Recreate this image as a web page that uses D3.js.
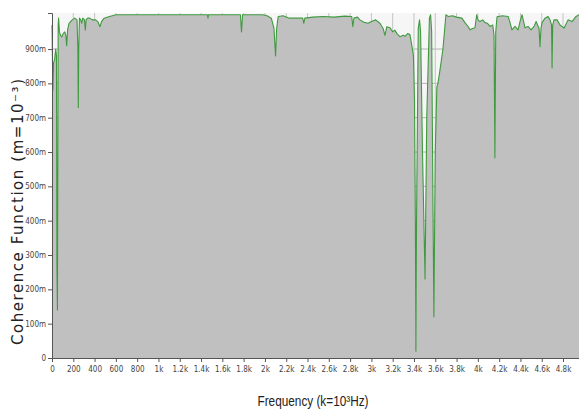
<!DOCTYPE html>
<html>
<head>
<meta charset="utf-8">
<script src="https://cdn.jsdelivr.net/npm/d3@7"></script>
<style>
  body { margin: 0; background: #ffffff; }
  .tick text { font-family: "Liberation Sans Narrow", "DejaVu Sans Condensed", Arial, sans-serif; font-size: 8px; fill: #444; }
  .tick line { stroke: #555; }
  .domain { stroke: #555; }
</style>
</head>
<body>
<div id="chart"></div>
<script>

// frequency (Hz) and coherence
var freqHz = [
  0, 8, 15, 25, 35, 42, 46, 51, 55, 58, 62, 70, 80, 91, 105, 120, 130, 138, 146, 160,
  175, 190, 213, 235, 243, 247, 251, 258, 270, 279, 289, 305, 313, 320, 335, 354, 380, 410, 430, 450,
  465, 490, 540, 600, 1000, 1460, 1465, 1470, 1770, 1780, 1790, 1980, 2020, 2060, 2085, 2100, 2110, 2125, 2170, 2230,
  2290, 2355, 2365, 2375, 2450, 2550, 2650, 2750, 2815, 2826, 2836, 2870, 2892, 2930, 2970, 3000, 3040, 3080, 3110, 3127,
  3145, 3175, 3200, 3220, 3240, 3268, 3300, 3315, 3340, 3362, 3380, 3395, 3405, 3413, 3418, 3424, 3440, 3452, 3462, 3480,
  3504, 3520, 3545, 3556, 3566, 3577, 3587, 3600, 3615, 3625, 3640, 3672, 3700, 3720, 3760, 3800, 3850, 3879, 3910, 3926,
  3950, 3973, 3989, 4001, 4020, 4045, 4067, 4090, 4114, 4140, 4152, 4160, 4168, 4180, 4230, 4284, 4300, 4320, 4349, 4377,
  4396, 4415, 4443, 4471, 4500, 4528, 4547, 4575, 4584, 4593, 4603, 4631, 4659, 4678, 4692, 4697, 4703, 4715, 4744, 4772,
  4810, 4847, 4885, 4922, 4950
];

var coherence = [
  0.97, 0.78, 0.86, 0.87, 0.90, 0.88, 0.28, 0.14, 0.60, 0.97, 0.99, 0.95, 0.94, 0.935, 0.945, 0.95, 0.94, 0.91, 0.955, 0.975,
  0.98, 0.985, 0.99, 0.985, 0.90, 0.73, 0.90, 0.99, 0.985, 0.975, 0.99, 0.985, 0.955, 0.985, 0.99, 0.99, 0.985, 0.985, 0.98, 0.965,
  0.98, 0.99, 0.995, 1.0, 1.0, 1.0, 0.99, 1.0, 1.0, 0.95, 1.0, 1.0, 0.997, 0.99, 0.96, 0.88, 0.96, 0.995, 0.997, 0.99,
  0.99, 0.99, 0.975, 0.99, 0.993, 0.995, 0.993, 0.996, 0.995, 0.965, 0.99, 0.993, 0.985, 0.978, 0.975, 0.98, 0.985, 0.975, 0.96, 0.94,
  0.965, 0.962, 0.95, 0.955, 0.945, 0.936, 0.94, 0.937, 0.945, 0.942, 0.91, 0.88, 0.75, 0.40, 0.02, 0.40, 0.96, 0.985, 0.95, 0.60,
  0.23, 0.70, 0.99, 1.0, 0.95, 0.50, 0.12, 0.60, 0.79, 0.80, 0.83, 0.90, 1.0, 0.995, 0.997, 0.993, 0.99, 0.977, 0.965, 0.956,
  0.96, 0.962, 1.0, 0.985, 0.98, 0.985, 0.977, 0.975, 0.966, 0.97, 0.94, 0.583, 0.95, 0.994, 0.997, 0.995, 0.98, 0.956, 0.966, 0.956,
  0.98, 1.0, 0.962, 0.966, 0.956, 0.966, 0.98, 0.96, 0.907, 0.96, 0.977, 0.99, 0.995, 0.985, 0.97, 0.845, 0.97, 0.985, 0.985, 0.97,
  0.961, 0.985, 0.98, 0.995, 1.0
];

var xTickValues = d3.range(0, 4801, 200);
var yTickValues = d3.range(0, 10).map(function (i) { return i / 10; });

var xTitle = "Frequency (k=10³Hz)";
var yTitle = "Coherence Function (m=10⁻³)";

var svgWidth = 579;
var svgHeight = 412;

var margin = { top: 13, right: 0, bottom: 54, left: 52 };
var width = svgWidth - margin.left - margin.right;
var height = svgHeight - margin.top - margin.bottom;

var svg = d3.select("#chart")
  .append("svg")
  .attr("width", svgWidth)
  .attr("height", svgHeight);

var chartGroup = svg.append("g")
  .attr("transform", `translate(${margin.left}, ${margin.top})`);

var data = freqHz.map(function (f, i) {
  return { f: f, c: coherence[i] };
});

// scales
var xScale = d3.scaleLinear()
  .domain([0, 4950])
  .range([0, width]);

var yScale = d3.scaleLinear()
  .domain([0, 1.005])
  .range([height, 0]);

// plot background + grid
chartGroup.append("rect")
  .attr("width", width)
  .attr("height", height)
  .attr("fill", "#f6f6f6");

chartGroup.append("g")
  .selectAll("line")
  .data(yTickValues.slice(1))
  .enter()
  .append("line")
  .attr("x1", 0)
  .attr("x2", width)
  .attr("y1", d => yScale(d))
  .attr("y2", d => yScale(d))
  .attr("stroke", "#b4b4b4");

chartGroup.append("g")
  .selectAll("line")
  .data(xTickValues.slice(1))
  .enter()
  .append("line")
  .attr("x1", d => xScale(d))
  .attr("x2", d => xScale(d))
  .attr("y1", 0)
  .attr("y2", height)
  .attr("stroke", "#c4c4c4");

// filled area under the curve
var area = d3.area()
  .x(d => xScale(d.f))
  .y0(height)
  .y1(d => yScale(d.c));

chartGroup.append("path")
  .datum(data)
  .attr("d", area)
  .attr("fill", "#c0c0c0");

var line = d3.line()
  .x(d => xScale(d.f))
  .y(d => yScale(d.c));

chartGroup.append("path")
  .datum(data)
  .attr("d", line)
  .attr("fill", "none")
  .attr("stroke", "#3f9a3f")
  .attr("stroke-width", 1.1)
  .attr("stroke-linejoin", "round");

// axes
var bottomAxis = d3.axisBottom(xScale)
  .tickValues(xTickValues)
  .tickSize(4)
  .tickPadding(4)
  .tickFormat(d => d === 0 ? "0" : (d < 1000 ? d : (d / 1000) + "k"));

var leftAxis = d3.axisLeft(yScale)
  .tickValues(yTickValues)
  .tickSize(4)
  .tickPadding(2)
  .tickFormat(d => d === 0 ? "0" : Math.round(d * 1000) + "m");

chartGroup.append("g")
  .attr("transform", `translate(0, ${height})`)
  .call(bottomAxis);

chartGroup.append("g")
  .call(leftAxis);

// axis titles
svg.append("text")
  .attr("transform", "translate(23, 212) rotate(-90)")
  .attr("text-anchor", "middle")
  .attr("font-family", "DejaVu Sans, Verdana, sans-serif")
  .attr("font-size", "15px")
  .attr("fill", "#222")
  .attr("textLength", 266)
  .attr("lengthAdjust", "spacing")
  .text(yTitle);

svg.append("text")
  .attr("x", 313)
  .attr("y", 406)
  .attr("text-anchor", "middle")
  .attr("font-family", "Liberation Sans, Arial, sans-serif")
  .attr("font-size", "14px")
  .attr("fill", "#222")
  .attr("textLength", 111)
  .attr("lengthAdjust", "spacingAndGlyphs")
  .text(xTitle);

</script>
</body>
</html>
